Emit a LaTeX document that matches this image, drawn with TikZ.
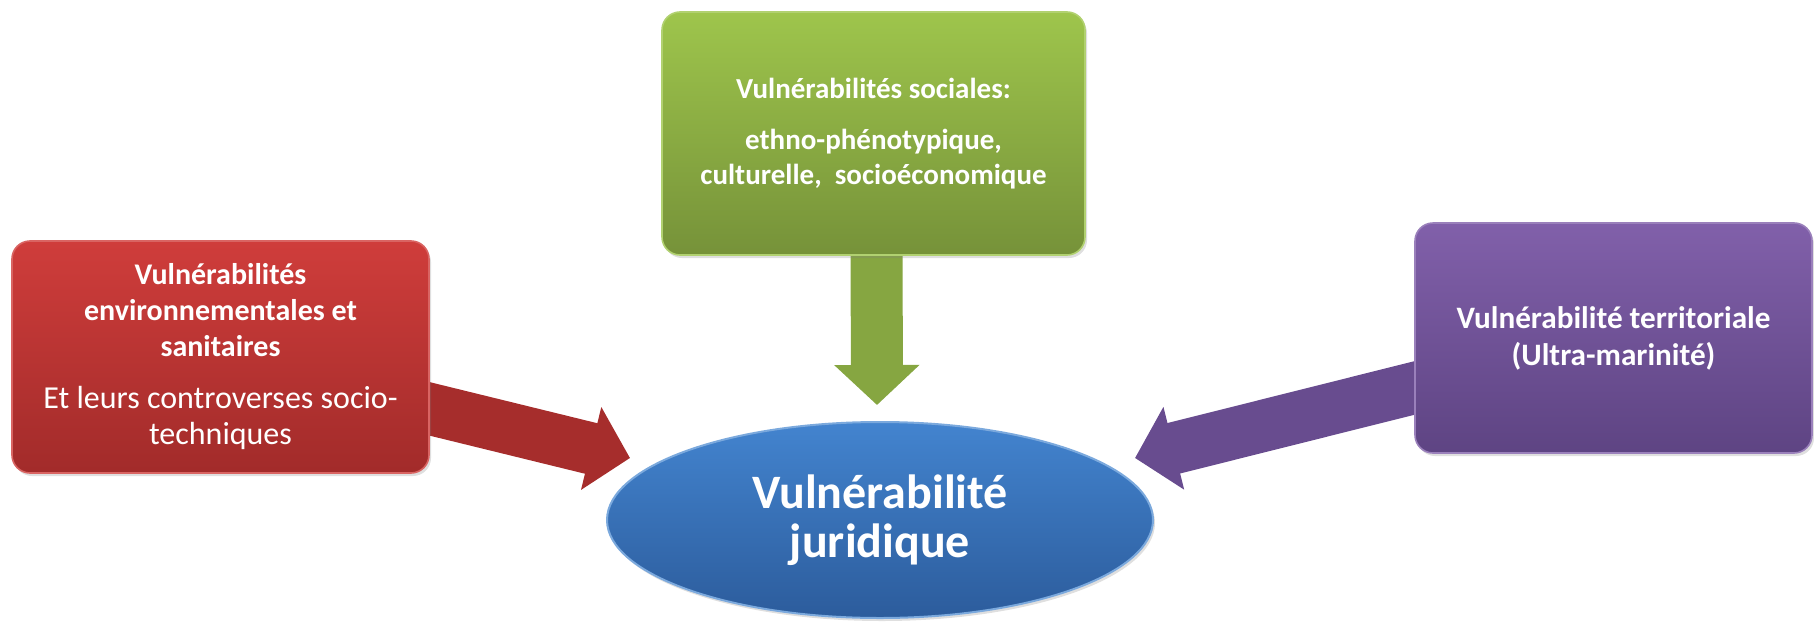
\documentclass[tikz,border=0pt]{standalone}
\usepackage{fontspec}
\setmainfont{Carlito}
\usetikzlibrary{arrows.meta,shadows,backgrounds,shapes.geometric}

\definecolor{redtop}{HTML}{CF3D3B}
\definecolor{redbot}{HTML}{A22B2A}
\definecolor{greentop}{HTML}{9EC54C}
\definecolor{greenbot}{HTML}{769239}
\definecolor{purptop}{HTML}{8160AA}
\definecolor{purpbot}{HTML}{5E4483}
\definecolor{bluetop}{HTML}{4384CF}
\definecolor{bluebot}{HTML}{2C5C9C}

\newcommand{\subline}{\fontsize{16}{18.5}\selectfont\mdseries}

\begin{document}
\begin{tikzpicture}[x=0.5pt,y=-0.5pt,
	box/.style={rounded corners=9pt,align=center,text=white,inner sep=0pt,line width=.8pt,
		font=\fontsize{14.5}{17.5}\selectfont\bfseries,
		drop shadow={opacity=.25,shadow xshift=1pt,shadow yshift=-1.5pt}},
	redbox/.style={box,draw=redtop!80!white,top color=redtop,bottom color=redbot,
		minimum width=208.5pt,minimum height=116pt,font=\fontsize{15}{18}\selectfont\bfseries},
	greenbox/.style={box,draw=greentop!80!white,top color=greentop,bottom color=greenbot,
		minimum width=211.5pt,minimum height=121.5pt},
	purpbox/.style={box,draw=purptop!80!white,top color=purptop,bottom color=purpbot,
		minimum width=198.5pt,minimum height=115pt,font=\fontsize{15.6}{18.5}\selectfont\bfseries},
	bigarrow/.style={line width=26pt,-{Triangle[width=41.5pt,length=20pt]}}]
\useasboundingbox (0,0) rectangle (1814,621);

\node[redbox] (env) at (220.5,357) {Vulnérabilités\\ environnementales et\\ sanitaires\\[8pt]
	\subline Et leurs controverses socio-\\ \subline techniques};
\node[greenbox] (soc) at (873.5,133.5) {Vulnérabilités sociales:\\[8pt]
	ethno-phénotypique,\\ culturelle,\ \ socioéconomique};
\node[purpbox] (terr) at (1613.5,338) {Vulnérabilité territoriale\\ (Ultra-marinité)};
\node[ellipse,draw=bluetop!70!white,line width=1pt,top color=bluetop,bottom color=bluebot,
	minimum width=273pt,minimum height=98pt,inner sep=0pt,text=white,align=center,
	font=\fontsize{24}{24.5}\selectfont\bfseries,
	drop shadow={opacity=.25,shadow xshift=1pt,shadow yshift=-1.5pt}]
	(jur) at (880,520) {Vulnérabilité\\ juridique};

\coordinate (envtip) at (630,458);
\coordinate (soctip) at (877,405);
\coordinate (terrtip) at (1135,458);

\begin{scope}[on background layer]
\draw[bigarrow,color=redbot!90!redtop] ([xshift=-10pt,yshift=-23.5pt]env.east) -- (envtip);
\draw[bigarrow,color=greenbot!60!greentop] ([xshift=1.5pt,yshift=10pt]soc.south) -- (soctip);
\draw[bigarrow,color=purpbot!70!purptop] ([xshift=10pt,yshift=-22.5pt]terr.west) -- (terrtip);
\end{scope}
\end{tikzpicture}
\end{document}
